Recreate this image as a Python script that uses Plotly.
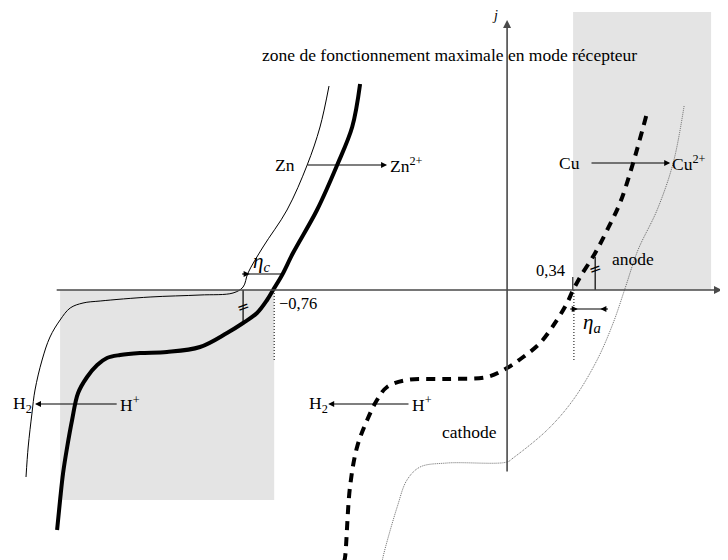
import plotly.graph_objects as go

# courbes intensité-potentiel (E en V, j en unités arbitraires)
E_zn_elec = [-0.440, -0.469, -0.524, -0.598, -0.686, -0.726, -0.759, -0.781, -0.818, -0.869, -0.928,
             -1.027, -1.148, -1.247, -1.320, -1.368, -1.404, -1.441, -1.474, -1.496, -1.514, -1.529,
             -1.540, -1.551]
j_zn_elec = [206, 163, 125, 80, 37, 15, 0, -10, -23, -33, -43, -57, -62, -63, -65, -68, -75, -87,
             -103, -130, -157, -183, -210, -240]

E_zn_gen = [-0.554, -0.587, -0.634, -0.708, -0.796, -0.851, -0.869, -0.906, -1.027, -1.210, -1.393,
            -1.456, -1.503, -1.540, -1.577, -1.606, -1.632, -1.643, -1.657, -1.665]
j_zn_gen = [204, 163, 125, 80, 43, 17, 3, -3, -5, -7, -11, -13, -18, -30, -47, -70, -100, -123,
            -157, -187]

E_cu_elec = [0.609, 0.561, 0.513, 0.466, 0.422, 0.367, 0.341, 0.319, 0.282, 0.220, 0.158, 0.099,
             0.026, -0.121, -0.268, -0.341, -0.378, -0.414, -0.451, -0.477, -0.495, -0.499]
j_cu_elec = [174, 127, 87, 60, 37, 13, 0, -13, -30, -53, -67, -78, -87, -89, -90, -97, -110, -130,
             -157, -197, -267, -272]

E_cu_gen = [0.748, 0.708, 0.649, 0.579, 0.532, 0.488, 0.429, 0.341, 0.246, 0.121, 0.099, -0.121,
            -0.220, -0.268, -0.304, -0.356, -0.359]
j_cu_gen = [184, 127, 80, 40, 2, -33, -70, -110, -140, -168, -172, -173, -177, -190, -217, -267, -272]

E_zn = -0.76
E_cu = 0.34

FONT = "Liberation Serif"
GRAY = "#e4e4e4"
AX = "#4a4a4a"

fig = go.Figure()

fig.add_trace(go.Scatter(x=E_zn_gen, y=j_zn_gen, mode="lines", line=dict(color="black", width=1, shape="spline")))
fig.add_trace(go.Scatter(x=E_zn_elec, y=j_zn_elec, mode="lines", line=dict(color="black", width=4, shape="spline")))
fig.add_trace(go.Scatter(x=E_cu_gen, y=j_cu_gen, mode="lines",
                         line=dict(color="#444444", width=0.8, dash="1px,1px", shape="spline")))
fig.add_trace(go.Scatter(x=E_cu_elec, y=j_cu_elec, mode="lines",
                         line=dict(color="black", width=4, dash="9px,7px", shape="spline")))

shapes = [
    # zones grisées
    dict(type="rect", x0=-1.540, x1=-0.755, y0=-210, y1=0, fillcolor=GRAY, line_width=0, layer="below"),
    dict(type="rect", x0=0.341, x1=0.847, y0=0, y1=278, fillcolor=GRAY, line_width=0, layer="below"),
    # repères
    dict(type="line", x0=-0.869, x1=-0.869, y0=0, y1=-33, line=dict(color="black", width=1.2)),
    dict(type="line", x0=E_zn + 0.005, x1=E_zn + 0.005, y0=0, y1=-72, line=dict(color="black", width=1, dash="1px,2px")),
    dict(type="line", x0=0.422, x1=0.422, y0=0, y1=33, line=dict(color="black", width=1.2)),
    dict(type="line", x0=E_cu, x1=E_cu, y0=0, y1=13, line=dict(color="black", width=1)),
    dict(type="line", x0=E_cu + 0.004, x1=E_cu + 0.004, y0=0, y1=-72, line=dict(color="black", width=1, dash="1px,2px")),
    # surtensions
    dict(type="line", x0=-0.873, x1=-0.726, y0=16, y1=16, line=dict(color="black", width=1.2)),
    dict(type="line", x0=0.330, x1=0.469, y0=-19, y1=-19, line=dict(color="black", width=1.2)),
]

def arrow(x, y, ax, ay, color="black", width=1.2, head=2):
    return dict(x=x, y=y, ax=ax, ay=ay, xref="x", yref="y", axref="x", ayref="y", text="",
                showarrow=True, arrowhead=head, arrowsize=1, arrowwidth=width, arrowcolor=color)

def label(x, y, text, xanchor="center", size=17.5, italic=False, family=FONT):
    return dict(x=x, y=y, xref="x", yref="y", text=text, showarrow=False, xanchor=xanchor, yanchor="middle",
                font=dict(family=family, size=size, color="black", style="italic" if italic else "normal"))

annotations = [
    # axes
    arrow(0.887, 0, -1.558, 0, color=AX, width=1.6),
    arrow(0.099, 270, 0.099, -183, color=AX, width=1.6),
    label(0.055, 275, "j", size=14, italic=True),
    label(-0.114, 235, "zone de fonctionnement maximale en mode récepteur"),
    # réactions
    arrow(-0.341, 125, -0.638, 125),
    label(-0.671, 125, "Zn", xanchor="right"),
    label(-0.337, 125, "Zn<sup>2+</sup>", xanchor="left"),
    arrow(0.697, 127, 0.403, 127),
    label(0.374, 127, "Cu", xanchor="right"),
    label(0.697, 127, "Cu<sup>2+</sup>", xanchor="left"),
    arrow(-1.632, -114, -1.327, -114),
    label(-1.636, -114, "H<sub>2</sub>", xanchor="right"),
    label(-1.327, -114, "H<sup>+</sup>", xanchor="left"),
    arrow(-0.557, -114, -0.257, -114),
    label(-0.550, -114, "H<sub>2</sub>", xanchor="right"),
    label(-0.257, -114, "H<sup>+</sup>", xanchor="left"),
    label(-0.040, -142, "cathode"),
    label(0.561, 31, "anode"),
    label(0.257, 20, "0,34", size=16.5),
    label(-0.744, -13, "−0,76", xanchor="left", size=16.5),
    # surtensions : pointes tournées vers l'intérieur
    arrow(-0.845, 16, -0.873, 16),
    arrow(0.358, -19, 0.330, -19),
    arrow(0.441, -19, 0.469, -19),
    label(-0.803, 28, "η<sub>c</sub>", size=21, italic=True),
    label(0.411, -33, "η<sub>a</sub>", size=21, italic=True),
    label(-0.869, -17, "=", size=15, family="DejaVu Sans"),
    label(0.422, 21, "=", size=15, family="DejaVu Sans"),
]
for a in annotations:
    if a.get("text") == "=":
        a["textangle"] = -20

# le body de la page garde une marge de 8 px : figure 720x552
fig.update_layout(
    width=720, height=552,
    margin=dict(l=0, r=0, t=0, b=0),
    paper_bgcolor="white", plot_bgcolor="white",
    showlegend=False,
    xaxis=dict(range=[-1.731, 0.909], visible=False, fixedrange=True),
    yaxis=dict(range=[-270, 282], visible=False, fixedrange=True),
    shapes=shapes,
    annotations=annotations,
)

fig.write_html("out.html")
